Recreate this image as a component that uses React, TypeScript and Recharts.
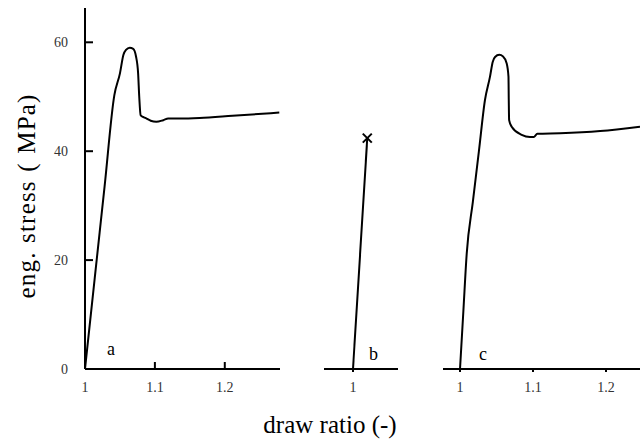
import React from 'react';
import { LineChart, Line, XAxis, YAxis } from 'recharts';

// draw ratio / eng. stress (MPa)
const curveA = [
  { x: 1, y: 0 },
  { x: 1.014, y: 16.8 },
  { x: 1.028, y: 33.5 },
  { x: 1.042, y: 50.3 },
  { x: 1.05, y: 54.3 },
  { x: 1.055, y: 57.7 },
  { x: 1.0586, y: 58.6 },
  { x: 1.064, y: 59.0 },
  { x: 1.069, y: 58.8 },
  { x: 1.073, y: 57.4 },
  { x: 1.076, y: 54.3 },
  { x: 1.0776, y: 50.0 },
  { x: 1.0796, y: 46.6 },
  { x: 1.083, y: 46.3 },
  { x: 1.088, y: 46.0 },
  { x: 1.094, y: 45.6 },
  { x: 1.102, y: 45.4 },
  { x: 1.112, y: 45.7 },
  { x: 1.119, y: 46.0 },
  { x: 1.136, y: 46.0 },
  { x: 1.164, y: 46.1 },
  { x: 1.211, y: 46.5 },
  { x: 1.278, y: 47.1 },
];

const curveB = [
  { x: 1, y: 0 },
  { x: 1.0204, y: 42.4 },
];

const curveC = [
  { x: 1, y: 0 },
  { x: 1.0046, y: 10.6 },
  { x: 1.0092, y: 21.2 },
  { x: 1.0176, y: 30.7 },
  { x: 1.0259, y: 40.0 },
  { x: 1.0342, y: 49.4 },
  { x: 1.0411, y: 53.7 },
  { x: 1.0448, y: 56.4 },
  { x: 1.048, y: 57.3 },
  { x: 1.0538, y: 57.7 },
  { x: 1.059, y: 57.4 },
  { x: 1.064, y: 56.1 },
  { x: 1.0664, y: 53.7 },
  { x: 1.0668, y: 49.4 },
  { x: 1.0673, y: 45.7 },
  { x: 1.0708, y: 44.5 },
  { x: 1.0845, y: 43.0 },
  { x: 1.0959, y: 42.6 },
  { x: 1.101, y: 42.6 },
  { x: 1.106, y: 43.2 },
  { x: 1.137, y: 43.3 },
  { x: 1.192, y: 43.7 },
  { x: 1.2466, y: 44.5 },
];

const yTicks = [0, 20, 40, 60];
const xTicksA = [1, 1.1, 1.2];
const xTicksB = [1];
const xTicksC = [1, 1.1, 1.2];

const yDomain = [0, 66.3];
const font = '"Liberation Serif", serif';
const tickStyle = { fontSize: 14, fontFamily: font, fill: '#333' };
const axisStroke = { stroke: '#000', strokeWidth: 2 };
const margin = { top: 8, right: 0, left: 0, bottom: 44 };

const BreakMark = (props: any) => {
  const { cx, cy, index } = props;
  if (index !== curveB.length - 1) return <g key={`d${index}`} />;
  const s = 4.5;
  return (
    <g key={`d${index}`} stroke="#000" strokeWidth={2}>
      <line x1={cx - s} y1={cy - s} x2={cx + s} y2={cy + s} />
      <line x1={cx - s} y1={cy + s} x2={cx + s} y2={cy - s} />
    </g>
  );
};

const abs = (left: number, top: number): React.CSSProperties => ({ position: 'absolute', left, top });

export default function App() {
  return (
    <div style={{ position: 'absolute', left: 0, top: 0, width: 640, height: 443, background: '#fff', overflow: 'hidden', fontFamily: font }}>
      <div style={abs(0, 0)}>
        <LineChart width={300} height={443} data={curveA} margin={{ ...margin, right: 20 }}>
          <XAxis type="number" dataKey="x" domain={[1, 1.279]} ticks={xTicksA} allowDataOverflow
            height={30} tickSize={-7} tickMargin={20} axisLine={axisStroke} tickLine={axisStroke} tick={tickStyle} />
          <YAxis type="number" domain={yDomain} ticks={yTicks} allowDataOverflow width={85}
            tickSize={-8} tickMargin={25} axisLine={axisStroke} tickLine={axisStroke} tick={tickStyle} />
          <Line type="monotone" dataKey="y" stroke="#000" strokeWidth={2} dot={false} isAnimationActive={false} />
        </LineChart>
      </div>
      <div style={abs(324, 0)}>
        <LineChart width={74} height={443} data={curveB} margin={margin}>
          <XAxis type="number" dataKey="x" domain={[0.9586, 1.0643]} ticks={xTicksB} allowDataOverflow
            height={30} tickSize={3} tickMargin={10} axisLine={axisStroke} tickLine={axisStroke} tick={tickStyle} />
          <YAxis type="number" domain={yDomain} allowDataOverflow hide />
          <Line type="linear" dataKey="y" stroke="#000" strokeWidth={2} dot={BreakMark} isAnimationActive={false} />
        </LineChart>
      </div>
      <div style={abs(443, 0)}>
        <LineChart width={197} height={443} data={curveC} margin={margin}>
          <XAxis type="number" dataKey="x" domain={[0.9767, 1.2466]} ticks={xTicksC} allowDataOverflow
            height={30} tickSize={3} tickMargin={10} axisLine={axisStroke} tickLine={axisStroke} tick={tickStyle} />
          <YAxis type="number" domain={yDomain} allowDataOverflow hide />
          <Line type="monotone" dataKey="y" stroke="#000" strokeWidth={2} dot={false} isAnimationActive={false} />
        </LineChart>
      </div>

      <div style={{ ...abs(107, 339), fontSize: 18 }}>a</div>
      <div style={{ ...abs(369, 344), fontSize: 18 }}>b</div>
      <div style={{ ...abs(479, 344), fontSize: 18 }}>c</div>

      <div style={{ position: 'absolute', left: 27, top: 196, transform: 'translate(-50%, -50%) rotate(-90deg)', whiteSpace: 'nowrap', fontSize: 25, letterSpacing: 1.2, wordSpacing: 1 }}>
        eng. stress ( MPa)
      </div>
      <div style={{ position: 'absolute', left: 330, top: 425, transform: 'translate(-50%, -50%)', whiteSpace: 'nowrap', fontSize: 25 }}>
        draw ratio (-)
      </div>
    </div>
  );
}
